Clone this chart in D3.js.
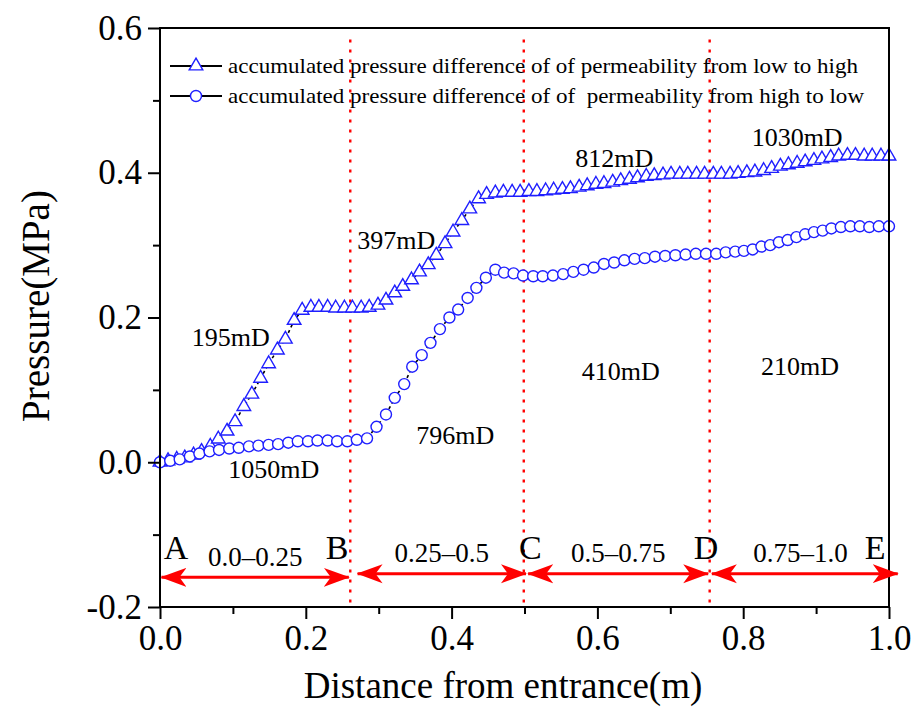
<!DOCTYPE html>
<html>
<head>
<meta charset="utf-8">
<script src="https://cdn.jsdelivr.net/npm/d3@7"></script>
<style>
  html, body { margin: 0; padding: 0; background: #fff; }
  svg { display: block; }
  svg text { font-family: "Liberation Serif", "DejaVu Serif", serif; fill: #000; }
</style>
</head>
<body>
<svg id="chart" width="916" height="709"></svg>
<script>
// Accumulated pressure difference, permeability arranged low -> high (triangles)
const lowToHighX = [0.000,0.011,0.023,0.034,0.046,0.057,0.069,0.080,0.092,0.103,0.115,0.126,0.138,0.149,0.161,0.172,0.184,0.195,0.207,0.218,0.230,0.241,0.253,0.264,0.276,0.287,0.299,0.310,0.322,0.333,0.345,0.356,0.368,0.379,0.391,0.402,0.414,0.425,0.437,0.448,0.460,0.471,0.483,0.494,0.506,0.517,0.529,0.540,0.552,0.563,0.575,0.586,0.598,0.609,0.621,0.632,0.644,0.655,0.667,0.678,0.690,0.701,0.713,0.724,0.736,0.747,0.759,0.770,0.782,0.793,0.805,0.816,0.828,0.839,0.851,0.862,0.874,0.885,0.897,0.908,0.920,0.931,0.943,0.954,0.966,0.977,0.989,1.000];
const lowToHighY = [0.000,0.002,0.004,0.006,0.010,0.015,0.022,0.032,0.043,0.056,0.077,0.094,0.116,0.136,0.155,0.170,0.196,0.210,0.214,0.214,0.214,0.213,0.213,0.213,0.213,0.214,0.217,0.224,0.234,0.243,0.252,0.263,0.273,0.286,0.302,0.318,0.334,0.350,0.364,0.370,0.372,0.373,0.373,0.373,0.374,0.374,0.375,0.376,0.377,0.378,0.380,0.382,0.384,0.385,0.387,0.389,0.391,0.393,0.395,0.396,0.397,0.398,0.398,0.398,0.398,0.398,0.398,0.398,0.398,0.399,0.400,0.401,0.403,0.406,0.409,0.411,0.413,0.415,0.417,0.419,0.421,0.423,0.424,0.424,0.423,0.423,0.423,0.423];

// Accumulated pressure difference, permeability arranged high -> low (circles)
const highToLowX = [0.000,0.014,0.027,0.041,0.054,0.068,0.081,0.095,0.108,0.122,0.135,0.149,0.162,0.176,0.189,0.203,0.216,0.230,0.243,0.257,0.270,0.284,0.297,0.310,0.322,0.335,0.346,0.359,0.371,0.384,0.397,0.409,0.422,0.434,0.447,0.460,0.472,0.485,0.498,0.512,0.525,0.539,0.553,0.567,0.581,0.595,0.609,0.623,0.637,0.651,0.665,0.679,0.693,0.707,0.721,0.735,0.749,0.763,0.776,0.789,0.801,0.813,0.825,0.837,0.849,0.861,0.873,0.885,0.897,0.909,0.921,0.934,0.947,0.960,0.973,0.986,1.000];
const highToLowY = [0.000,0.002,0.004,0.008,0.012,0.015,0.017,0.019,0.020,0.022,0.023,0.024,0.025,0.027,0.029,0.029,0.030,0.030,0.029,0.029,0.031,0.033,0.049,0.066,0.089,0.108,0.132,0.148,0.165,0.184,0.200,0.211,0.227,0.241,0.255,0.266,0.262,0.261,0.258,0.257,0.257,0.258,0.260,0.263,0.266,0.269,0.274,0.276,0.279,0.281,0.282,0.284,0.285,0.286,0.287,0.288,0.288,0.288,0.290,0.291,0.292,0.294,0.298,0.300,0.304,0.307,0.311,0.315,0.318,0.320,0.323,0.325,0.326,0.326,0.325,0.326,0.326];

// Section boundaries (m) and labels
const boundaries = [0.261, 0.499, 0.754];
const pointLetters = ["A", "B", "C", "D", "E"];
const pointLetterX = [0.022, 0.243, 0.508, 0.749, 0.981];
const sectionNames = ["0.0\u20130.25", "0.25\u20130.5", "0.5\u20130.75", "0.75\u20131.0"];
const sectionStart = [0.002, 0.271, 0.505, 0.757];
const sectionEnd   = [0.259, 0.502, 0.752, 1.012];
const sectionArrowY = [-0.159, -0.154, -0.154, -0.154];

// Permeability annotations for each section
const permLabels = ["195mD", "397mD", "812mD", "1030mD", "1050mD", "796mD", "410mD", "210mD"];
const permX = [0.097, 0.324, 0.623, 0.874, 0.156, 0.405, 0.632, 0.878];
const permY = [0.161, 0.295, 0.408, 0.437, -0.022, 0.025, 0.114, 0.121];

const xTicks = [0.0, 0.2, 0.4, 0.6, 0.8, 1.0];
const xMinor = [0.1, 0.3, 0.5, 0.7, 0.9];
const yTicks = [-0.2, 0.0, 0.2, 0.4, 0.6];
const yMinor = [-0.1, 0.1, 0.3, 0.5];

const legendLabels = [
  "accumulated pressure difference of of permeability from low to high",
  "accumulated pressure difference of of\u00a0 permeability from high to low"
];

const SERIF = "'Liberation Serif', 'DejaVu Serif', serif";
const svg = d3.select("#chart");
const margin = { left: 160, right: 27, top: 28, bottom: 102 };
const W = 916, H = 709;
const x = d3.scaleLinear().domain([0, 1]).range([margin.left, W - margin.right]);
const y = d3.scaleLinear().domain([-0.2, 0.6]).range([H - margin.bottom, margin.top]);

const blue = "#1f1fff";
const red = "#ff0000";

// Section boundary lines
svg.append("g").selectAll("line").data(boundaries).join("line")
  .attr("x1", d => x(d)).attr("x2", d => x(d))
  .attr("y1", y(0.584)).attr("y2", y(-0.2))
  .attr("stroke", red).attr("stroke-width", 2.4)
  .attr("stroke-dasharray", "3,7");

// Series: dashed connecting lines under hollow markers
const tri = lowToHighX.map((v, i) => ({ x: v, y: lowToHighY[i] }));
const cir = highToLowX.map((v, i) => ({ x: v, y: highToLowY[i] }));
const line = d3.line().x(d => x(d.x)).y(d => y(d.y));

[tri, cir].forEach(s => {
  svg.append("path").datum(s).attr("d", line)
    .attr("fill", "none").attr("stroke", "#000").attr("stroke-width", 1.6)
    .attr("stroke-dasharray", "3,3");
});

const triSym = d3.symbol().type(d3.symbolTriangle).size(80);
svg.append("g").selectAll("path").data(tri).join("path")
  .attr("d", triSym)
  .attr("transform", d => `translate(${x(d.x)},${y(d.y)})`)
  .attr("fill", "#fff").attr("stroke", blue).attr("stroke-width", 1.4);

svg.append("g").selectAll("circle").data(cir).join("circle")
  .attr("cx", d => x(d.x)).attr("cy", d => y(d.y)).attr("r", 5.5)
  .attr("fill", "#fff").attr("stroke", blue).attr("stroke-width", 1.4);

// Axes with frame
function styleAxis(g) {
  g.attr("font-family", SERIF).attr("font-size", 35);
  g.select(".domain").remove();
  g.selectAll(".tick line").attr("stroke", "#000").attr("stroke-width", 2);
  g.selectAll(".tick text").attr("fill", "#000").attr("font-family", SERIF)
    .style("font-family", SERIF).style("font-size", "35px");
}
const fmt = d => d3.format(".1f")(d).replace("\u2212", "-");
svg.append("g").attr("transform", `translate(0,${y(-0.2)})`)
  .call(d3.axisBottom(x).tickValues(xTicks).tickFormat(fmt).tickSize(12).tickPadding(6)).call(styleAxis);
svg.append("g").attr("transform", `translate(0,${y(-0.2)})`)
  .call(d3.axisBottom(x).tickValues(xMinor).tickFormat("").tickSize(7)).call(styleAxis);
svg.append("g").attr("transform", `translate(${x(0)},0)`)
  .call(d3.axisLeft(y).tickValues(yTicks).tickFormat(fmt).tickSize(12).tickPadding(6)).call(styleAxis);
svg.append("g").attr("transform", `translate(${x(0)},0)`)
  .call(d3.axisLeft(y).tickValues(yMinor).tickFormat("").tickSize(7)).call(styleAxis);

svg.append("rect")
  .attr("x", x(0)).attr("y", y(0.6))
  .attr("width", x(1) - x(0)).attr("height", y(-0.2) - y(0.6))
  .attr("fill", "none").attr("stroke", "#000").attr("stroke-width", 2);

// Axis titles
svg.append("text").attr("x", 503).attr("y", 698)
  .attr("text-anchor", "middle").attr("font-family", SERIF).attr("font-size", 37)
  .text("Distance from entrance(m)");
svg.append("text")
  .attr("transform", `translate(49,306) rotate(-90)`)
  .attr("text-anchor", "middle").attr("font-family", SERIF).attr("font-size", 39)
  .text("Pressure(MPa)");

// Arrows between section boundaries
const defs = svg.append("defs");
defs.append("marker").attr("id", "ahead").attr("viewBox", "0 -10 26 20")
  .attr("refX", 25).attr("refY", 0).attr("markerUnits", "userSpaceOnUse")
  .attr("markerWidth", 26).attr("markerHeight", 20).attr("orient", "auto-start-reverse")
  .append("path").attr("d", "M0,-9.5 L26,0 L0,9.5 L7,0 Z").attr("fill", red);

svg.append("g").selectAll("line").data(sectionStart).join("line")
  .attr("x1", (d) => x(d)).attr("x2", (d, i) => x(sectionEnd[i]))
  .attr("y1", (d, i) => y(sectionArrowY[i])).attr("y2", (d, i) => y(sectionArrowY[i]))
  .attr("stroke", red).attr("stroke-width", 3)
  .attr("marker-start", "url(#ahead)").attr("marker-end", "url(#ahead)");

svg.append("g").selectAll("text").data(pointLetters).join("text")
  .attr("x", (d, i) => x(pointLetterX[i])).attr("y", y(-0.134))
  .attr("text-anchor", "middle").attr("font-family", SERIF).attr("font-size", 34).text(d => d);

svg.append("g").selectAll("text").data(sectionNames).join("text")
  .attr("x", (d, i) => x((sectionStart[i] + Math.min(sectionEnd[i], 1)) / 2))
  .attr("y", (d, i) => y(sectionArrowY[i] + 0.016))
  .attr("text-anchor", "middle").attr("font-family", SERIF).attr("font-size", 27).text(d => d);

// Permeability annotations
svg.append("g").selectAll("text").data(permLabels).join("text")
  .attr("x", (d, i) => x(permX[i])).attr("y", (d, i) => y(permY[i]))
  .attr("text-anchor", "middle").attr("font-family", SERIF).attr("font-size", 26).text(d => d);

// Legend
const lg = svg.append("g");
const legendRowY = [66, 96];
const legendTextLen = [630, 636];
legendLabels.forEach((lbl, i) => {
  const yy = legendRowY[i];
  lg.append("line").attr("x1", 170).attr("x2", 222).attr("y1", yy).attr("y2", yy)
    .attr("stroke", "#000").attr("stroke-width", 2);
  if (i === 0) {
    lg.append("path").attr("d", triSym)
      .attr("transform", `translate(196,${yy})`)
      .attr("fill", "#fff").attr("stroke", blue).attr("stroke-width", 1.4);
  } else {
    lg.append("circle").attr("cx", 196).attr("cy", yy).attr("r", 5.5)
      .attr("fill", "#fff").attr("stroke", blue).attr("stroke-width", 1.4);
  }
  lg.append("text").attr("x", 228).attr("y", yy + 7)
    .attr("textLength", legendTextLen[i]).attr("lengthAdjust", "spacingAndGlyphs")
    .attr("font-family", SERIF).attr("font-size", 21).text(lbl);
});
</script>
</body>
</html>
